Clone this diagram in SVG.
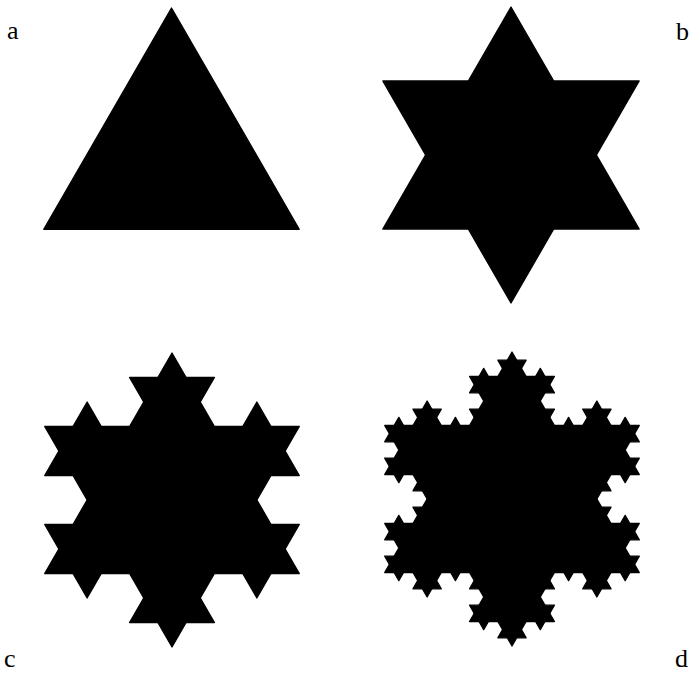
<svg xmlns="http://www.w3.org/2000/svg" width="695" height="674" viewBox="0 0 695 674">
  <style>
    .p { fill: #000; stroke: #000; stroke-width: 1.3; stroke-linejoin: round; vector-effect: non-scaling-stroke; }
    .lbl { font-family: "Liberation Serif", "Times New Roman", serif; font-size: 26px; fill: #000; }
  </style>
  <defs>
    <g id="b1"><polygon class="p" points="0.333333,0 0.5,-0.288675 0.666667,0"/></g>
    <g id="b2">
      <use href="#b1"/>
      <use href="#b1" transform="scale(0.333333)"/>
      <use href="#b1" transform="translate(0.333333,0) rotate(-60) scale(0.333333)"/>
      <use href="#b1" transform="translate(0.5,-0.288675) rotate(60) scale(0.333333)"/>
      <use href="#b1" transform="translate(0.666667,0) scale(0.333333)"/>
    </g>
    <g id="b3">
      <use href="#b1"/>
      <use href="#b2" transform="scale(0.333333)"/>
      <use href="#b2" transform="translate(0.333333,0) rotate(-60) scale(0.333333)"/>
      <use href="#b2" transform="translate(0.5,-0.288675) rotate(60) scale(0.333333)"/>
      <use href="#b2" transform="translate(0.666667,0) scale(0.333333)"/>
    </g>
    <g id="tri"><polygon class="p" points="0,-1 0.866025,0.5 -0.866025,0.5"/></g>
    <g id="k1">
      <use href="#tri"/>
      <use href="#b1" transform="translate(0,-1) rotate(60) scale(1.732051)"/>
      <use href="#b1" transform="translate(0.866025,0.5) rotate(180) scale(1.732051)"/>
      <use href="#b1" transform="translate(-0.866025,0.5) rotate(-60) scale(1.732051)"/>
    </g>
    <g id="k2">
      <use href="#tri"/>
      <use href="#b2" transform="translate(0,-1) rotate(60) scale(1.732051)"/>
      <use href="#b2" transform="translate(0.866025,0.5) rotate(180) scale(1.732051)"/>
      <use href="#b2" transform="translate(-0.866025,0.5) rotate(-60) scale(1.732051)"/>
    </g>
    <g id="k3">
      <use href="#tri"/>
      <use href="#b3" transform="translate(0,-1) rotate(60) scale(1.732051)"/>
      <use href="#b3" transform="translate(0.866025,0.5) rotate(180) scale(1.732051)"/>
      <use href="#b3" transform="translate(-0.866025,0.5) rotate(-60) scale(1.732051)"/>
    </g>
  </defs>
  <rect width="695" height="674" fill="#fff"/>
  <g id="panel-a">
    <use href="#tri" transform="translate(171.5,155.5) scale(147.5)"/>
  </g>
  <g id="panel-b">
    <use href="#k1" transform="translate(511,155) scale(148)"/>
  </g>
  <g id="panel-c">
    <use href="#k2" transform="translate(172,500) scale(147)"/>
  </g>
  <g id="panel-d">
    <use href="#k3" transform="translate(512,499) scale(147)"/>
  </g>
  <g id="labels">
    <text class="lbl" x="7" y="39">a</text>
    <text class="lbl" x="676" y="40">b</text>
    <text class="lbl" x="4" y="667">c</text>
    <text class="lbl" x="675" y="667">d</text>
  </g>
</svg>
